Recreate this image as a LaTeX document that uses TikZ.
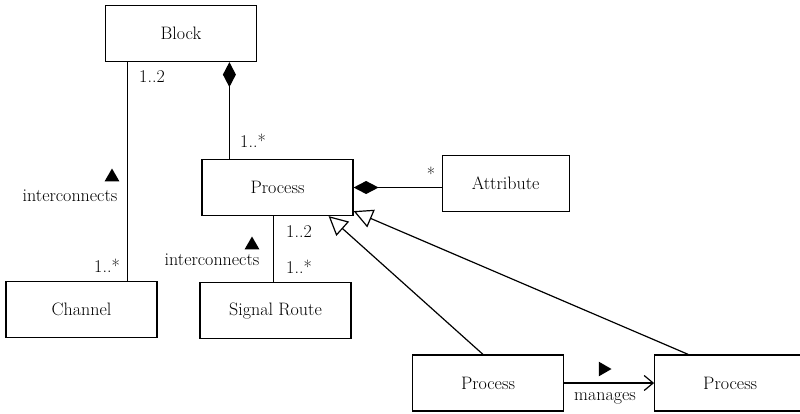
\documentclass[tikz,border=0pt]{standalone}
\usepackage{mathptmx}
\usetikzlibrary{arrows.meta, positioning, shapes.geometric, calc}

\begin{document}
\begin{tikzpicture}[
    x=1pt, y=-1pt,
    font=\fontsize{18}{21}\selectfont,
    cls/.style={rectangle, draw, line width=1.2pt, minimum width=151pt, minimum height=56pt, inner sep=0pt},
    assoc/.style={line width=1.2pt},
    compose/.style={line width=1.2pt, {Diamond[length=25pt,width=13pt]}-},
    inherit/.style={line width=1.2pt, -{Triangle[open,length=19pt,width=19pt]}},
    navig/.style={line width=1.2pt, -{Straight Barb[length=9pt,width=15pt]}},
    mult/.style={inner sep=0pt},
    readdir/.style={regular polygon, regular polygon sides=3, fill=black, inner sep=0pt, minimum size=17pt}
]
\useasboundingbox (0,0) rectangle (800,413);

% classes
\node[cls] (block) at (181,33.5) {Block};
\node[cls] (proc) at (277.5,187.5) {Process};
\node[cls, minimum width=127pt, right=88pt of proc, yshift=4pt] (attr) {Attribute};
\node[cls] (chan) at (81.5,309.5) {Channel};
\node[cls, below=66pt of proc, xshift=-2pt] (sig) {Signal Route};
\node[cls] (sub1) at (488,383) {Process};
\node[cls, right=90pt of sub1] (sub2) {Process};

% attachment points on the boxes
\coordinate (cb) at ($(chan.north east)+(-30,0)$);
\coordinate (pb) at ($(proc.north west)+(28,0)$);
\coordinate (ps) at ($(proc.south)+(-4,0)$);
\coordinate (g1) at ($(proc.south east)+(-25,0)$);
\coordinate (g2) at ($(proc.south east)+(0,-5)$);
\coordinate (s1) at ($(sub1.north)+(-5,0)$);
\coordinate (s2) at ($(sub2.north)+(-42,0)$);

% associations
\draw[assoc] (cb) -- (cb |- block.south);
\draw[compose] (pb |- block.south) -- (pb);
\draw[compose] (proc.east) -- (proc.east -| attr.west);
\draw[assoc] (ps) -- (ps |- sig.north);
\draw[inherit] (s1) -- (g1);
\draw[inherit] (s2) -- (g2);
\draw[navig] (sub1.east) -- (sub2.west);

% multiplicities and role names
\node[mult] (m1) at (152,77) {1..2};
\node[mult] (m2) at (253,141) {1..*};
\node[mult] (m3) at (107,266) {1..*};
\node[mult] (m4) at (299,232) {1..2};
\node[mult] (m5) at (299,267) {1..*};
\node[mult] (m6) at (431,174) {*};
\node[mult] (ic1) at (70,196) {interconnects};
\node[mult] (ic2) at (212,260) {interconnects};
\node[mult] (mg) at (605,398) {manages};

% reading directions
\node[readdir] (d1) at (112,177) {};
\node[readdir] (d2) at (252,245) {};
\node[readdir, shape border rotate=-90] (d3) at (603,369) {};
\end{tikzpicture}
\end{document}
